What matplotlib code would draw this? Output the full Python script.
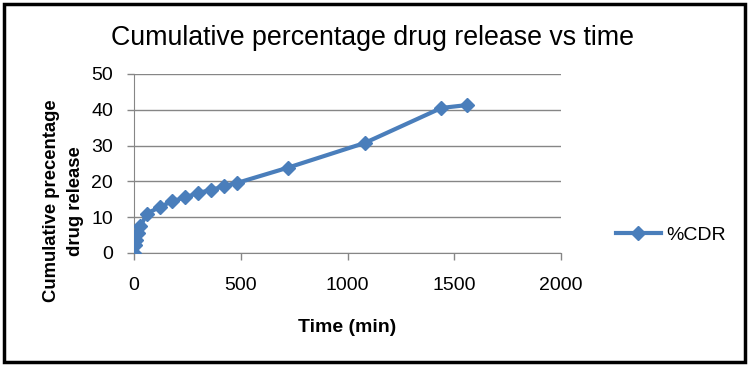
import matplotlib.pyplot as plt
from matplotlib.patches import Rectangle

plt.rcParams['font.family'] = ['Liberation Sans', 'DejaVu Sans']

# Data
time_min = [0, 5, 10, 20, 30, 60, 120, 180, 240, 300, 360, 420, 480, 720, 1080, 1440, 1560]
cdr = [0, 2.3, 3.7, 5.5, 7.4, 11.0, 12.8, 14.5, 15.5, 16.8, 17.5, 18.7, 19.5, 23.8, 30.7, 40.5, 41.3]

fig = plt.figure(figsize=(7.49, 3.66), dpi=100)
ax = fig.add_axes([0.179, 0.309, 0.570, 0.489])

line_color = '#4A7EBB'
ax.plot(time_min, cdr, color=line_color, lw=3, marker='D', markersize=7.5,
        label='%CDR', zorder=3)

ax.set_xlim(0, 2000)
ax.set_ylim(0, 50)
ax.set_xticks(range(0, 2001, 500))
ax.set_yticks(range(0, 51, 10))
ax.grid(axis='y', color='#868686', lw=1)
ax.set_axisbelow(True)
for s in ['top', 'right']:
    ax.spines[s].set_visible(False)
for s in ['left', 'bottom']:
    ax.spines[s].set_color('#868686')
ax.tick_params(axis='both', colors='#868686', labelcolor='black', labelsize=14,
               length=5, width=1)
ax.tick_params(axis='x', pad=12)
ax.tick_params(axis='y', pad=10)

ax.set_xlabel('Time (min)', fontsize=14, fontweight='bold', labelpad=18)
ax.set_ylabel('Cumulative precentage\ndrug release', fontsize=13.3, fontweight='bold',
              linespacing=1.5)
ax.yaxis.set_label_coords(-0.118, 0.29)
fig.text(0.497, 0.895, 'Cumulative percentage drug release vs time', fontsize=19.3,
         ha='center', va='center')

fig.legend(loc='center left', bbox_to_anchor=(0.812, 0.357), frameon=False,
           fontsize=14, handlelength=2.3, handletextpad=0.3, borderaxespad=0)

fig.add_artist(Rectangle((0.006, 0.012), 0.988, 0.976, transform=fig.transFigure,
                         fill=False, ec='black', lw=2.5))

fig.savefig('out.png', dpi=100)
